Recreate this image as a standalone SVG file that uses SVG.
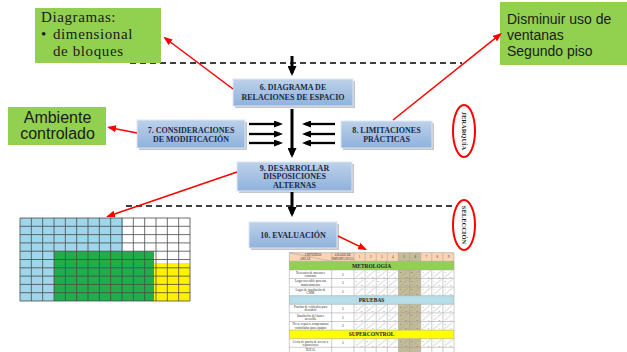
<svg xmlns="http://www.w3.org/2000/svg" width="627" height="352" viewBox="0 0 627 352">
<defs>
<linearGradient id="bg" x1="0" y1="0" x2="0" y2="1"><stop offset="0" stop-color="#bdd1ea"/><stop offset="1" stop-color="#8fb2dd"/></linearGradient>
<marker id="ah" markerUnits="userSpaceOnUse" markerWidth="10" markerHeight="9" refX="7" refY="4.5" orient="auto"><path d="M0,0 L10,4.5 L0,9 Z" fill="#000"/></marker>
<marker id="ahs" markerUnits="userSpaceOnUse" markerWidth="9" markerHeight="7" refX="6" refY="3.5" orient="auto"><path d="M0,0 L9,3.5 L0,7 Z" fill="#000"/></marker>
<marker id="rh" markerUnits="userSpaceOnUse" markerWidth="9" markerHeight="7" refX="7" refY="3.5" orient="auto"><path d="M0,0 L9,3.5 L0,7 Z" fill="#f00"/></marker>
<pattern id="diag" patternUnits="userSpaceOnUse" x="354" y="252.7" width="11.11" height="8.6"><path d="M1.5,7.6 L9.6,1" stroke="#9a9a9a" stroke-width="0.5"/></pattern>
</defs>
<style>
.green{fill:#92d050}
.b{fill:url(#bg);stroke:#dce7f4;stroke-width:1}
.s{fill:#6f6f6f;opacity:.4}
.bt{font-family:"Liberation Serif",serif;font-weight:bold;font-size:8px;fill:#1b2a45;text-anchor:middle}
.red{stroke:#f00;stroke-width:1.5;fill:none;marker-end:url(#rh)}
.blk{stroke:#000;stroke-width:3;fill:none;marker-end:url(#ah)}
.hk{stroke:#000;stroke-width:2.3;fill:none;marker-end:url(#ahs)}
.dash{stroke:#000;stroke-width:1.5;stroke-dasharray:6 4;fill:none}
.gl{stroke:#4a4a4a;stroke-width:0.8;fill:none}
.tl{stroke:#9a9a9a;stroke-width:0.5;fill:none}
.tt{font-family:"Liberation Serif",serif;font-size:3.2px;fill:#333;text-anchor:middle}
.tn{font-family:"Liberation Serif",serif;font-size:2.8px;fill:#444}
.th{font-family:"Liberation Serif",serif;font-weight:bold;font-size:5.5px;fill:#222;text-anchor:middle}
.vt{font-family:"Liberation Serif",serif;font-weight:bold;font-size:6.5px;fill:#1a1a1a;text-anchor:middle}
.n1{font-family:"Liberation Serif",serif;font-size:15px;letter-spacing:0.6px;fill:#1a1a1a}
</style>
<rect width="627" height="352" fill="#fff"/>

<g id="dashed-lines">
<path class="dash" d="M130,63 H462"/>
<path class="dash" d="M126,206 H457"/>
</g>

<g id="note-diagramas">
<rect class="green" x="35" y="8" width="126" height="55"/>
<text class="n1"><tspan x="41" y="22">Diagramas:</tspan><tspan x="41" y="39">•</tspan><tspan x="53" y="39">dimensional</tspan><tspan x="53" y="56">de bloques</tspan></text>
</g>

<g id="note-ventanas">
<rect class="green" x="500" y="2" width="127" height="63"/>
<text font-family="'Liberation Sans',sans-serif" font-size="14" fill="#1a1a1a"><tspan x="507" y="24">Disminuir uso de</tspan><tspan x="507" y="40">ventanas</tspan><tspan x="507" y="56">Segundo piso</tspan></text>
</g>

<g id="note-ambiente">
<rect class="green" x="8" y="107" width="98" height="38"/>
<text font-family="'Liberation Sans',sans-serif" font-size="16" fill="#1a1a1a" text-anchor="middle"><tspan x="57.5" y="123">Ambiente</tspan><tspan x="57.5" y="139">controlado</tspan></text>
</g>

<g id="step6">
<rect class="s" x="235" y="81" width="120" height="27"/>
<rect class="b" x="233" y="79" width="120" height="27"/>
<text class="bt"><tspan x="293" y="90">6. DIAGRAMA DE</tspan><tspan x="293" y="100">RELACIONES DE ESPACIO</tspan></text>
</g>

<g id="step7">
<rect class="s" x="139" y="122" width="108" height="28"/>
<rect class="b" x="137" y="120" width="108" height="28"/>
<text class="bt"><tspan x="191" y="133">7. CONSIDERACIONES</tspan><tspan x="191" y="142">DE MODIFICACIÓN</tspan></text>
</g>

<g id="step8">
<rect class="s" x="343" y="123" width="91" height="27"/>
<rect class="b" x="341" y="121" width="91" height="27"/>
<text class="bt"><tspan x="386.5" y="133">8. LIMITACIONES</tspan><tspan x="386.5" y="142">PRÁCTICAS</tspan></text>
</g>

<g id="step9">
<rect class="s" x="239" y="164" width="115" height="29"/>
<rect class="b" x="237" y="162" width="115" height="29"/>
<text class="bt"><tspan x="294.5" y="170.5">9. DESARROLLAR</tspan><tspan x="294.5" y="179">DISPOSICIONES</tspan><tspan x="294.5" y="187.5">ALTERNAS</tspan></text>
</g>

<g id="step10">
<rect class="s" x="251" y="224" width="88" height="26"/>
<rect class="b" x="249" y="222" width="88" height="26"/>
<text class="bt" x="293" y="238">10. EVALUACIÓN</text>
</g>

<g id="label-jerarquia">
<ellipse cx="464" cy="131" rx="11" ry="26" fill="none" stroke="#f00" stroke-width="2"/>
<text class="vt" transform="translate(464,131) rotate(90)" y="2.3">JERARQUÍA</text>
</g>

<g id="label-seleccion">
<ellipse cx="464" cy="225" rx="11" ry="25" fill="none" stroke="#f00" stroke-width="2"/>
<text class="vt" transform="translate(464,225) rotate(90)" y="2.3">SELECCIÓN</text>
</g>

<g id="block-grid">
<rect x="20" y="218" width="103" height="83" fill="#9fd6ea"/>
<rect x="54" y="251.2" width="100" height="49.8" fill="#22ad4c"/>
<rect x="154" y="263" width="36" height="38" fill="#fff200"/>
<path class="gl" d="M20,218V301M31.33,218V301M42.67,218V301M54,218V301M65.33,218V301M76.67,218V301M88,218V301M99.33,218V301M110.67,218V301M122,218V301M133.33,218V301M144.67,218V301M156,218V301M167.33,218V301M178.67,218V301M190,218V301"/>
<path class="gl" d="M20,218H190M20,226.3H190M20,234.6H190M20,242.9H190M20,251.2H190M20,259.5H190M20,267.8H190M20,276.1H190M20,284.4H190M20,292.7H190M20,301H190"/>
</g>

<g id="evaluation-table">
<rect x="289.3" y="252.7" width="164.7" height="8.6" fill="#fbd4b4"/>
<rect x="398.4" y="252.7" width="22.3" height="8.6" fill="#c4bc96"/>
<rect x="289.3" y="261.3" width="164.7" height="8.6" fill="#92d050"/>
<rect x="289.3" y="295.7" width="164.7" height="8.6" fill="#b7dee8"/>
<rect x="289.3" y="330.1" width="164.7" height="8.6" fill="#ffff00"/>
<rect x="398.4" y="269.9" width="22.3" height="25.8" fill="#c4bc96"/>
<rect x="398.4" y="304.3" width="22.3" height="25.8" fill="#c4bc96"/>
<rect x="398.4" y="338.7" width="22.3" height="17.2" fill="#c4bc96"/>
<rect x="354" y="269.9" width="100" height="25.8" fill="url(#diag)"/>
<rect x="354" y="304.3" width="100" height="25.8" fill="url(#diag)"/>
<rect x="354" y="338.7" width="100" height="8.6" fill="url(#diag)"/>
<path class="tl" d="M289.3,252.7H454M289.3,261.3H454M289.3,269.9H454M289.3,278.5H454M289.3,287.1H454M289.3,295.7H454M289.3,304.3H454M289.3,312.9H454M289.3,321.5H454M289.3,330.1H454M289.3,338.7H454M289.3,347.3H454"/>
<path class="tl" d="M289.3,252.7V352M454,252.7V352M331.7,252.7V261.3M331.7,269.9V295.7M331.7,304.3V330.1M331.7,338.7V352M354,252.7V261.3M354,269.9V295.7M354,304.3V330.1M354,338.7V352"/>
<path class="tl" d="M365.1,252.7V261.3M376.2,252.7V261.3M387.3,252.7V261.3M398.4,252.7V261.3M409.6,252.7V261.3M420.7,252.7V261.3M431.8,252.7V261.3M442.9,252.7V261.3"/>
<path class="tl" d="M365.1,269.9V295.7M376.2,269.9V295.7M387.3,269.9V295.7M398.4,269.9V295.7M409.6,269.9V295.7M420.7,269.9V295.7M431.8,269.9V295.7M442.9,269.9V295.7"/>
<path class="tl" d="M365.1,304.3V330.1M376.2,304.3V330.1M387.3,304.3V330.1M398.4,304.3V330.1M409.6,304.3V330.1M420.7,304.3V330.1M431.8,304.3V330.1M442.9,304.3V330.1"/>
<path class="tl" d="M365.1,338.7V352M376.2,338.7V352M387.3,338.7V352M398.4,338.7V352M409.6,338.7V352M420.7,338.7V352M431.8,338.7V352M442.9,338.7V352"/>
<path class="tl" d="M289.3,252.7L331.7,261.3"/>
<text class="tt"><tspan x="313" y="256">CRITERIOS</tspan><tspan x="305" y="260">ÁREAS</tspan></text>
<text class="tt"><tspan x="342.8" y="256.3">GRADO DE</tspan><tspan x="342.8" y="259.8">IMPORTANCIA</tspan></text>
<text class="tt" y="258.3"><tspan x="359.6">1</tspan><tspan x="370.7">2</tspan><tspan x="381.8">3</tspan><tspan x="392.9">4</tspan><tspan x="404">5</tspan><tspan x="415.2">6</tspan><tspan x="426.3">7</tspan><tspan x="437.4">8</tspan><tspan x="448.5">9</tspan></text>
<text class="th" x="371.6" y="267.6">METROLOGÍA</text>
<text class="th" x="371.6" y="302">PRUEBAS</text>
<text class="th" x="371.6" y="336.4">SUPERCONTROL</text>
<text class="tt"><tspan x="310.5" y="273.7">Necesario de muestreo</tspan><tspan x="310.5" y="277">constante</tspan><tspan x="310.5" y="282.3">Lugar accesible para sus</tspan><tspan x="310.5" y="285.6">mantenimiento</tspan><tspan x="310.5" y="290.9">Lugar de instalación de</tspan><tspan x="310.5" y="294.2">CMM</tspan><tspan x="310.5" y="308.1">Pruebas de vehículos para</tspan><tspan x="310.5" y="311.4">descubrir</tspan><tspan x="310.5" y="316.7">Instalación del banco</tspan><tspan x="310.5" y="320">accesible</tspan><tspan x="310.5" y="325.3">No se requiere temperaturas</tspan><tspan x="310.5" y="328.6">controladas para equipos</tspan><tspan x="310.5" y="342.5">Cerca de puerta de acceso a</tspan><tspan x="310.5" y="345.8">reparaciones</tspan><tspan x="310.5" y="351">TOTAL</tspan></text>
<text class="tt" style="font-size:3.6px"><tspan x="342.8" y="275.5">5</tspan><tspan x="342.8" y="284.1">3</tspan><tspan x="342.8" y="292.7">5</tspan><tspan x="342.8" y="309.9">5</tspan><tspan x="342.8" y="318.5">5</tspan><tspan x="342.8" y="327.1">3</tspan><tspan x="342.8" y="344.3">5</tspan></text>
<text class="tn" x="355.5 366.6 377.7 388.8 399.9 411.1 422.2 433.3 444.4" y="273.2">313154313</text>
<text class="tn" x="355.5 366.6 377.7 388.8 399.9 411.1 422.2 433.3 444.4" y="281.8">535155315</text>
<text class="tn" x="355.5 366.6 377.7 388.8 399.9 411.1 422.2 433.3 444.4" y="290.4">131355113</text>
<text class="tn" x="355.5 366.6 377.7 388.8 399.9 411.1 422.2 433.3 444.4" y="307.6">353155353</text>
<text class="tn" x="355.5 366.6 377.7 388.8 399.9 411.1 422.2 433.3 444.4" y="316.2">313355131</text>
<text class="tn" x="355.5 366.6 377.7 388.8 399.9 411.1 422.2 433.3 444.4" y="324.8">531355315</text>
<text class="tn" x="355.5 366.6 377.7 388.8 399.9 411.1 422.2 433.3 444.4" y="342">353155531</text>
<text class="tn" x="361 372.1 383.2 394.3 405.4 416.6 427.7 438.8 449.9" y="277.8">959357959</text>
<text class="tn" x="361 372.1 383.2 394.3 405.4 416.6 427.7 438.8 449.9" y="286.4">595379595</text>
<text class="tn" x="361 372.1 383.2 394.3 405.4 416.6 427.7 438.8 449.9" y="295">355955335</text>
<text class="tn" x="361 372.1 383.2 394.3 405.4 416.6 427.7 438.8 449.9" y="312.2">555355555</text>
<text class="tn" x="361 372.1 383.2 394.3 405.4 416.6 427.7 438.8 449.9" y="320.8">535955353</text>
<text class="tn" x="361 372.1 383.2 394.3 405.4 416.6 427.7 438.8 449.9" y="329.4">393955939</text>
<text class="tn" x="361 372.1 383.2 394.3 405.4 416.6 427.7 438.8 449.9" y="346.6">555355555</text>
</g>

<g id="connectors">
<path class="blk" d="M292,56 V73"/>
<path class="blk" d="M292,109 V155"/>
<path class="blk" d="M292,192 V214"/>
<path class="hk" d="M249,124 H280"/>
<path class="hk" d="M249,134 H280"/>
<path class="hk" d="M249,143 H280"/>
<path class="hk" d="M335,124 H305"/>
<path class="hk" d="M335,134 H305"/>
<path class="hk" d="M335,143 H305"/>
<path class="red" d="M233,89 L165,38"/>
<path class="red" d="M393,120 L500.4,34.2"/>
<path class="red" d="M137,133 L109,127.4"/>
<path class="red" d="M237,172 L108,216.3"/>
<path class="red" d="M338,236 L365.2,249.1"/>
</g>
</svg>
